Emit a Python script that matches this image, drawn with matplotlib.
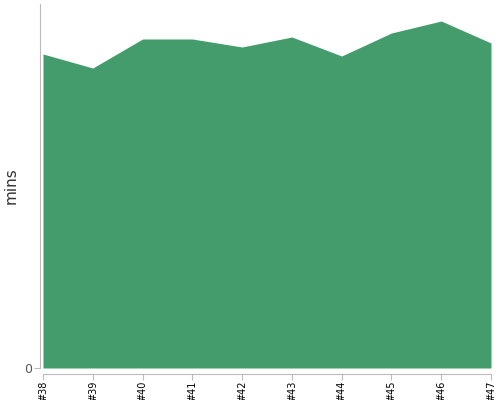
import numpy as np
import matplotlib
matplotlib.use('Agg')
import matplotlib.pyplot as plt

# data (mins per build)
builds = ['#38', '#39', '#40', '#41', '#42', '#43', '#44', '#45', '#46', '#47']
mins = [31.4, 30.0, 32.9, 32.9, 32.1, 33.1, 31.2, 33.5, 34.7, 32.5]

fig = plt.figure(figsize=(5, 4), dpi=100)
ax = fig.add_axes([0.08, 0.08, 0.902, 0.91])

x = np.arange(len(builds))
ax.fill_between(x, 0, mins, color='#449c6c', linewidth=0)

ax.set_xlim(-0.06, len(builds) - 1)
ax.set_ylim(0, 36.4)

ax.set_xticks(x)
ax.set_xticklabels(builds)
ax.set_yticks([0])
ax.set_yticklabels(['0'])
ax.set_ylabel('mins', fontsize=11, color='#333333')
ax.yaxis.set_label_coords(-0.048, 0.5)

for s in ['top', 'right']:
    ax.spines[s].set_visible(False)
ax.spines['left'].set_color('#bbbbbb')
ax.spines['bottom'].set_color('#bbbbbb')
ax.spines['bottom'].set_position(('outward', 4))
ax.spines['bottom'].set_bounds(0, len(builds) - 1)
ax.tick_params(axis='both', color='#bbbbbb', length=4)
ax.tick_params(axis='x', labelrotation=90, labelsize=7, labelcolor='black', pad=1)
ax.tick_params(axis='y', labelsize=9, labelcolor='#555555', pad=2)

plt.savefig('out.png', dpi=100)
